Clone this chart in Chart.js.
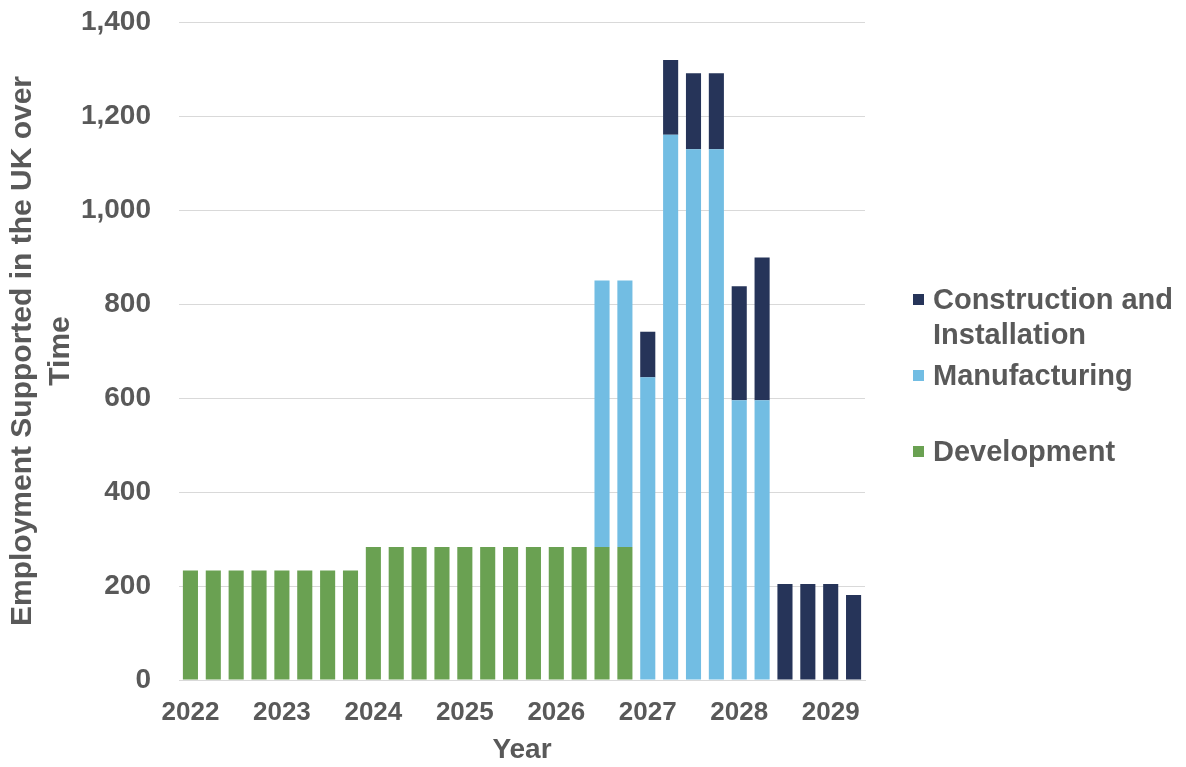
<!DOCTYPE html>
<html>
<head>
<meta charset="utf-8">
<script src="https://cdn.jsdelivr.net/npm/chart.js@4.4.1/dist/chart.umd.min.js"></script>
<style>
  html, body { margin: 0; padding: 0; background: #fff; }
  #wrap { position: relative; width: 1186px; height: 767px; }
  #legend { position: absolute; left: 913px; top: 282px; font: bold 29px "Liberation Sans", Arial, sans-serif; color: #595959; }
  .legend-item { display: flex; align-items: flex-start; height: 76px; }
  .legend-box { width: 11px; height: 11px; margin-top: 12px; margin-right: 9px; flex: none; }
  .legend-text { width: 262px; line-height: 35px; }
</style>
</head>
<body>
<div id="wrap">
  <canvas id="chart" width="1186" height="767"></canvas>
  <div id="legend"></div>
</div>
<script>
'use strict';

const categories = [
  '2022', '', '', '', '2023', '', '', '', '2024', '', '', '', '2025', '', '', '',
  '2026', '', '', '', '2027', '', '', '', '2028', '', '', '', '2029', '',
];
const development = [
  233, 233, 233, 233, 233, 233, 233, 233, 283, 283, 283, 283, 283, 283, 283, 283,
  283, 283, 283, 283, 0, 0, 0, 0, 0, 0, 0, 0, 0, 0,
];
const manufacturing = [
  0, 0, 0, 0, 0, 0, 0, 0, 0, 0, 0, 0, 0, 0, 0, 0,
  0, 0, 567, 567, 644, 1160, 1129, 1129, 595, 595, 0, 0, 0, 0,
];
const construction = [
  0, 0, 0, 0, 0, 0, 0, 0, 0, 0, 0, 0, 0, 0, 0, 0,
  0, 0, 0, 0, 97, 159, 162, 162, 243, 304, 204, 204, 204, 181,
];
const seriesNames = ['Development', 'Manufacturing', 'Construction and Installation'];
const seriesColors = ['#6aa152', '#72bde3', '#263459'];

const TEXT = '#595959';
const FONT = '"Liberation Sans", Arial, sans-serif';

const chart = new Chart(document.getElementById('chart'), {
  type: 'bar',
  data: {
    labels: categories,
    datasets: [development, manufacturing, construction].map((data, i) => ({
      label: seriesNames[i],
      data,
      backgroundColor: seriesColors[i],
      borderWidth: 0,
      barPercentage: 0.66,
      categoryPercentage: 1,
    })),
  },
  options: {
    responsive: false,
    animation: false,
    layout: { padding: { top: 22, right: 321, left: 0, bottom: 0 } },
    plugins: { legend: { display: false }, tooltip: { enabled: false } },
    scales: {
      x: {
        stacked: true,
        grid: { display: false, drawTicks: false },
        border: { color: '#d9d9d9' },
        ticks: { color: TEXT, font: { family: FONT, size: 26, weight: 'bold' }, maxRotation: 0, autoSkip: false, padding: 17 },
        title: { display: true, text: 'Year', color: TEXT, font: { family: FONT, size: 28, weight: 'bold' }, padding: 0 },
        afterFit: scale => { scale.height = 87; },
      },
      y: {
        stacked: true,
        min: 0,
        max: 1400,
        grid: { color: '#d9d9d9', drawTicks: false },
        border: { display: false },
        ticks: { stepSize: 200, color: TEXT, font: { family: FONT, size: 28, weight: 'bold' }, padding: 28 },
        title: {
          display: true,
          text: ['Employment Supported in the UK over', 'Time'],
          color: TEXT,
          font: { family: FONT, size: 30, weight: 'bold', lineHeight: 1.25 },
          padding: { top: 4, bottom: 0 },
        },
        afterFit: scale => {
          scale.width = 179;
          scale.paddingTop = 0;
          scale.paddingBottom = 0;
        },
      },
    },
  },
});

const legend = document.getElementById('legend');
legend.innerHTML = chart.data.datasets.slice().reverse().map(ds => `
  <div class="legend-item">
    <span class="legend-box" style="background:${ds.backgroundColor}"></span>
    <span class="legend-text">${ds.label}</span>
  </div>`).join('');
</script>
</body>
</html>
